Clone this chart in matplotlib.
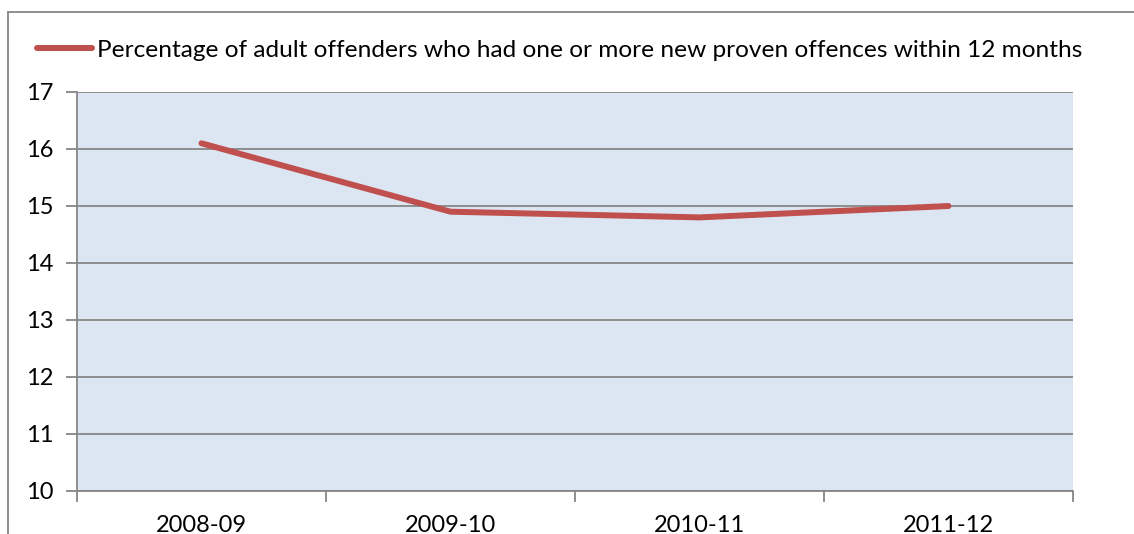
import matplotlib
matplotlib.use("Agg")
import matplotlib.pyplot as plt
from matplotlib.lines import Line2D

categories = ["2008-09", "2009-10", "2010-11", "2011-12"]
values = [16.1, 14.9, 14.8, 15.0]
series_name = "Percentage of adult offenders who had one or more new proven offences within 12 months"
yticks = [10, 11, 12, 13, 14, 15, 16, 17]

W, H = 1134, 534
fig = plt.figure(figsize=(W / 100, H / 100), dpi=100)
plt.rcParams['font.family'] = ['Lato', 'DejaVu Sans']

left, right, top, bottom = 77, 1073, 92, 491
ax = fig.add_axes([left / W, 1 - bottom / H, (right - left) / W, (bottom - top) / H])
ax.set_facecolor("#dce6f2")
grid_c = "#868686"

x = list(range(len(categories)))
line, = ax.plot(x, values, color="#c0504d", lw=4.3, solid_capstyle="round", solid_joinstyle="round", zorder=3)
ax.set_xlim(-0.5, len(categories) - 0.5)
ax.set_ylim(10, 17)
ax.set_yticks(yticks)
ax.set_yticklabels([str(v) for v in yticks], fontsize=17)
ax.yaxis.grid(True, color=grid_c, lw=1.3)
ax.set_axisbelow(True)

ax.set_xticks(x)
ax.set_xticklabels(categories, fontsize=17)
ax.tick_params(axis="x", length=0, pad=17)
ax.set_xticks([i - 0.5 for i in range(len(categories) + 1)], minor=True)
ax.tick_params(axis="x", which="minor", length=8, color=grid_c, width=1.3, direction="out")
ax.tick_params(axis="y", length=8, color=grid_c, width=1.3, direction="out", pad=9)

for s in ["top", "right"]:
    ax.spines[s].set_visible(False)
for s in ["left", "bottom"]:
    ax.spines[s].set_color(grid_c)
    ax.spines[s].set_linewidth(1.3)

# legend
fig.legend([line], [series_name], loc="center left", bbox_to_anchor=(37 / W, 1 - 50 / H),
           frameon=False, fontsize=17.6, handlelength=2.25, handletextpad=0.2,
           borderaxespad=0, borderpad=0)

# outer chart border (partially visible)
fig.add_artist(Line2D([8 / W, 8 / W], [0, 1 - 12 / H], transform=fig.transFigure, color=grid_c, lw=1.3))
fig.add_artist(Line2D([8 / W, 1], [1 - 12 / H, 1 - 12 / H], transform=fig.transFigure, color=grid_c, lw=1.3))

fig.savefig("out.png", dpi=100)
